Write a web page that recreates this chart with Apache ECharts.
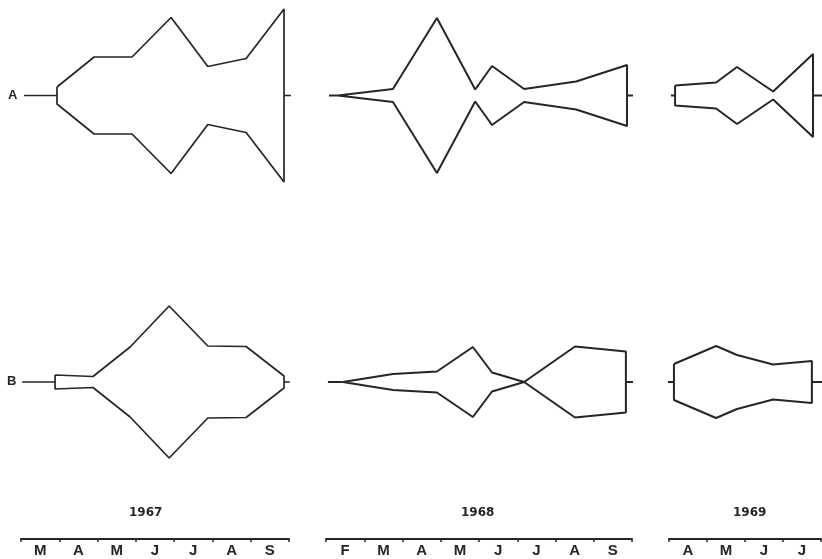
<!DOCTYPE html>
<html>
<head>
<meta charset="utf-8">
<script src="https://cdn.jsdelivr.net/npm/echarts@6/dist/echarts.min.js"></script>
<style>html,body{margin:0;padding:0;background:#fff}#c{width:822px;height:559px}</style>
</head>
<body>
<div id="c"></div>
<script>
// Month categories for each year
const months1967 = ['M','A','M','J','J','A','S'];
const months1968 = ['F','M','A','M','J','J','A','S'];
const months1969 = ['A','M','J','J'];
const years = ['1967','1968','1969'];
const rowLabels = ['A','B'];

// Kite data: x positions in months from start of axis, half-widths (relative abundance)
const a1967X = [0.94, 1.91, 2.90, 3.92, 4.88, 5.88, 6.87];
const a1967W = [8.5, 38.5, 38.5, 78, 29, 37, 86.5];
const a1967Lead = [0.08, 7.08];
const b1967X = [0.89, 1.88, 2.85, 3.87, 4.88, 5.88, 6.87];
const b1967W = [7, 5.5, 35, 76, 36, 35.5, 6];
const b1967Lead = [0.03, 7.02];

const a1968X = [0.31, 1.75, 2.90, 3.90, 4.34, 5.18, 6.54, 7.87];
const a1968W = [0, 6.5, 77.5, 6, 29.5, 6.5, 14, 30.5];
const a1968Lead = [0.08, 8.03];
const b1968X = [0.44, 1.75, 2.90, 3.84, 4.34, 5.18, 6.51, 7.84];
const b1968W = [0, 8, 10.5, 35, 9.5, 0, 35.5, 30.5];
const b1968Lead = [0.05, 8.03];

const a1969X = [0.16, 1.24, 1.79, 2.74, 3.79];
const a1969W = [10, 13, 28.5, 4, 41.5];
const a1969Lead = [0.05, 4.03];
const b1969X = [0.13, 1.24, 1.79, 2.74, 3.76];
const b1969W = [18, 36, 27, 17.5, 21];
const b1969Lead = [-0.05, 4.03];

const columns = [
  {left: 21, width: 268, months: months1967, year: years[0], yearX: 146,
   kites: [[a1967X, a1967W, a1967Lead], [b1967X, b1967W, b1967Lead]]},
  {left: 326, width: 306, months: months1968, year: years[1], yearX: 478,
   kites: [[a1968X, a1968W, a1968Lead], [b1968X, b1968W, b1968Lead]]},
  {left: 669, width: 152, months: months1969, year: years[2], yearX: 750,
   kites: [[a1969X, a1969W, a1969Lead], [b1969X, b1969W, b1969Lead]]}
];
const rowTops = [5.5, 292];
const rowH = 180;
const ink = '#262626';

const grid = [], xAxis = [], yAxis = [], series = [], graphic = [];
columns.forEach((col, ci) => {
  col.kites.forEach((k, ri) => {
    const gi = grid.length;
    grid.push({left: col.left, width: col.width, top: rowTops[ri], height: rowH});
    xAxis.push({type: 'value', gridIndex: gi, min: 0, max: col.months.length, show: false});
    yAxis.push({type: 'value', gridIndex: gi, min: -90, max: 90, show: false});
    const [xs, ws, lead] = k;
    const poly = [];
    xs.forEach((x, i) => poly.push([x, ws[i]]));
    for (let i = xs.length - 1; i >= 0; i--) poly.push([xs[i], -ws[i]]);
    poly.push([xs[0], ws[0]]);
    const lw = ci === 0 ? 1.7 : 2;
    series.push({type: 'line', xAxisIndex: gi, yAxisIndex: gi, data: poly, showSymbol: false,
      clip: false, silent: true, lineStyle: {color: ink, width: lw}});
    series.push({type: 'line', xAxisIndex: gi, yAxisIndex: gi, data: [[lead[0], 0], [xs[0], 0]],
      showSymbol: false, clip: false, silent: true, lineStyle: {color: ink, width: lw}});
    series.push({type: 'line', xAxisIndex: gi, yAxisIndex: gi, data: [[xs[xs.length - 1], 0], [lead[1], 0]],
      showSymbol: false, clip: false, silent: true, lineStyle: {color: ink, width: lw}});
  });
  // month axis
  const gi = grid.length;
  grid.push({left: col.left, width: col.width, top: 538, height: 1});
  xAxis.push({type: 'category', gridIndex: gi, data: col.months, boundaryGap: true, position: 'bottom',
    axisLine: {show: true, lineStyle: {color: ink, width: 2}},
    axisTick: {show: true, inside: false, length: 3, lineStyle: {color: ink, width: 1.5}},
    axisLabel: {color: ink, fontFamily: 'Liberation Sans, Arial, sans-serif', fontWeight: 'bold', fontSize: 15, margin: 4}});
  yAxis.push({type: 'value', gridIndex: gi, show: false});
  graphic.push({type: 'text', left: col.yearX - 17, top: 507,
    style: {text: col.year, fill: ink, font: 'bold 12px "DejaVu Sans", sans-serif'}});
});
graphic.push({type: 'text', left: 8, top: 89, style: {text: rowLabels[0], fill: ink, font: 'bold 13px "Liberation Sans", Arial, sans-serif'}});
graphic.push({type: 'text', left: 7, top: 375, style: {text: rowLabels[1], fill: ink, font: 'bold 13px "Liberation Sans", Arial, sans-serif'}});

const chart = echarts.init(document.getElementById('c'), null, {renderer: 'canvas'});
chart.setOption({animation: false, backgroundColor: '#fff', grid, xAxis, yAxis, series, graphic});
</script>
</body>
</html>
